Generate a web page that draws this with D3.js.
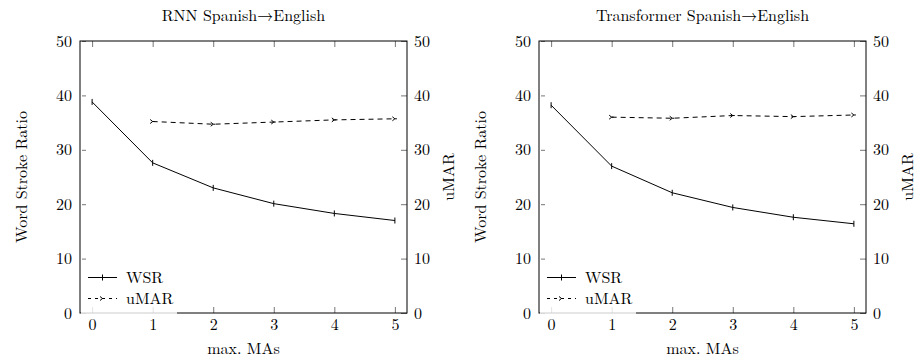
<!DOCTYPE html>
<meta charset="utf-8">
<html>
<head><title>WSR / uMAR</title></head>
<style>
body { margin: 0; background: #fff; }
</style>
<body>
<script src="https://d3js.org/d3.v7.min.js"></script>
<svg id="chart" width="914" height="358"></svg>
<script>

// data
var maxMAs = [0, 1, 2, 3, 4, 5];
var umarMAs = [1, 2, 3, 4, 5];
var xTicks = [0, 1, 2, 3, 4, 5];
var yTicks = [0, 10, 20, 30, 40, 50];

var rnnWSR = [38.8, 27.6, 23.0, 20.1, 18.3, 17.0];
var rnnUMAR = [35.2, 34.7, 35.1, 35.5, 35.7];

var trfWSR = [38.2, 27.0, 22.1, 19.4, 17.6, 16.4];
var trfUMAR = [36.0, 35.8, 36.3, 36.1, 36.4];

var titles = ["RNN Spanish\u2192English", "Transformer Spanish\u2192English"];

var svg = d3.select("#chart");
var fs = 16;
var serif = "'Latin Modern Roman', 'Liberation Serif', serif";

function drawPanel(left, title, wsr, umar) {
  var top = 41, bottom = 313, right = left + 327;

  var x = d3.scaleLinear().domain([-0.2, 5.2]).range([left, right]);
  var y = d3.scaleLinear().domain([0, 50]).range([bottom, top]);
  var y2 = d3.scaleLinear().domain([0, 50]).range([bottom, top]);

  var g = svg.append("g");

  // ticks (inward, grey)
  var tickCol = "#777";
  function style(a) {
    a.attr("font-family", null).attr("font-size", null);
    a.select(".domain").remove();
    a.selectAll("line").attr("stroke", tickCol);
  }
  g.append("g").attr("transform", "translate(0," + bottom + ")")
    .call(d3.axisBottom(x).tickValues(xTicks).tickFormat(d3.format("d")).tickSize(-6).tickPadding(6))
    .call(style);
  g.append("g").attr("transform", "translate(0," + top + ")")
    .call(d3.axisTop(x).tickValues(xTicks).tickSize(-6).tickFormat(""))
    .call(style);
  g.append("g").attr("transform", "translate(" + left + ",0)")
    .call(d3.axisLeft(y).tickValues(yTicks).tickFormat(d3.format("d")).tickSize(-6).tickPadding(8))
    .call(style)
    .call(function(a) { a.selectAll("line").attr("x1", 2); });
  g.append("g").attr("transform", "translate(" + right + ",0)")
    .call(d3.axisRight(y2).tickValues(yTicks).tickFormat(d3.format("d")).tickSize(-6).tickPadding(7))
    .call(style);

  // frame
  g.append("rect")
    .attr("x", left).attr("y", top)
    .attr("width", right - left).attr("height", bottom - top)
    .attr("fill", "none").attr("stroke", "#000").attr("stroke-width", 1);

  // WSR line
  var line = d3.line().x(function(d) { return x(d[0]); }).y(function(d) { return y(d[1]); });
  var wsrPts = maxMAs.map(function(m, i) { return [m, wsr[i]]; });
  g.append("path").datum(wsrPts)
    .attr("d", line).attr("fill", "none").attr("stroke", "#000").attr("stroke-width", 1);
  g.selectAll(".wsrMark").data(wsrPts).enter().append("line")
    .attr("x1", function(d) { return x(d[0]); })
    .attr("x2", function(d) { return x(d[0]); })
    .attr("y1", function(d) { return y(d[1]) - 3; })
    .attr("y2", function(d) { return y(d[1]) + 3; })
    .attr("stroke", "#000");

  // uMAR line
  var line2 = d3.line().x(function(d) { return x(d[0]); }).y(function(d) { return y2(d[1]); });
  var umarPts = umarMAs.map(function(m, i) { return [m, umar[i]]; });
  g.append("path").datum(umarPts)
    .attr("d", line2).attr("fill", "none").attr("stroke", "#000")
    .attr("stroke-width", 1).attr("stroke-dasharray", "5,4");
  g.selectAll(".umarMark").data(umarPts).enter().append("path")
    .attr("transform", function(d) { return "translate(" + x(d[0]) + "," + y2(d[1]) + ")"; })
    .attr("d", "M-2.5,-2L0,0L-2.5,2M0,0L2,0")
    .attr("fill", "none").attr("stroke", "#000");

  // legend
  var lx = left + 1, ly = 266;
  g.append("rect")
    .attr("x", lx).attr("y", ly).attr("width", 96).attr("height", 48.5)
    .attr("fill", "#fff").attr("fill-opacity", 0.8);
  var r1 = 277.5, r2 = 298.5, sx = left + 8;
  g.append("line").attr("x1", sx).attr("x2", sx + 29).attr("y1", r1).attr("y2", r1).attr("stroke", "#000");
  g.append("line").attr("x1", sx + 14.5).attr("x2", sx + 14.5).attr("y1", r1 - 3).attr("y2", r1 + 3).attr("stroke", "#000");
  g.append("text").attr("x", sx + 38).attr("y", r1).attr("dy", "0.35em").text("WSR");
  g.append("line").attr("x1", sx).attr("x2", sx + 29).attr("y1", r2).attr("y2", r2)
    .attr("stroke", "#000").attr("stroke-dasharray", "3,4");
  g.append("path").attr("transform", "translate(" + (sx + 14.5) + "," + r2 + ")")
    .attr("d", "M-2.5,-2L0,0L-2.5,2M0,0L2,0").attr("fill", "none").attr("stroke", "#000");
  g.append("text").attr("x", sx + 38).attr("y", r2).attr("dy", "0.35em").text("uMAR");

  // titles and labels
  var cx = (left + right) / 2;
  g.append("text").attr("x", cx).attr("y", 15).attr("dy", "0.35em")
    .attr("text-anchor", "middle").text(title);
  g.append("text").attr("x", cx).attr("y", 354)
    .attr("text-anchor", "middle").text("max. MAs");
  g.append("text")
    .attr("transform", "translate(" + (left - 59) + "," + ((top + bottom) / 2) + ") rotate(-90)")
    .attr("dy", "0.35em").attr("text-anchor", "middle").text("Word Stroke Ratio");
  g.append("text")
    .attr("transform", "translate(" + (right + 41) + "," + ((top + bottom) / 2) + ") rotate(-90)")
    .attr("dy", "0.35em").attr("text-anchor", "middle").text("uMAR");
}

drawPanel(80, titles[0], rnnWSR, rnnUMAR);
drawPanel(539, titles[1], trfWSR, trfUMAR);

svg.selectAll("text")
  .style("font-family", serif)
  .style("font-size", fs + "px")
  .style("fill", "#000");

</script>
</body>
</html>
